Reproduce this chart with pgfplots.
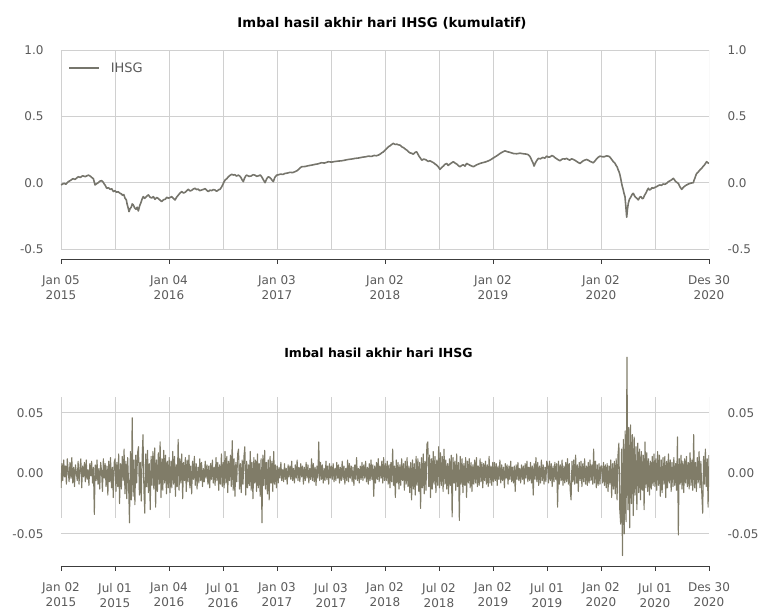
\documentclass[border=0pt]{standalone}
\usepackage{fontspec}
\setmainfont{DejaVu Sans}
\usepackage{pgfplots}
\usepackage{pgfplotstable}
\pgfplotsset{compat=1.18}
\definecolor{ser}{RGB}{128,124,104}
\definecolor{sertop}{RGB}{118,117,108}
\definecolor{gridc}{RGB}{208,208,208}
\definecolor{tickc}{RGB}{90,90,90}
\definecolor{axc}{RGB}{60,60,60}

\pgfplotstableread{
x y
2015.000 -0.017
2015.015 -0.010
2015.030 -0.005
2015.045 -0.012
2015.068 0.008
2015.090 0.018
2015.110 0.030
2015.130 0.025
2015.160 0.045
2015.180 0.040
2015.200 0.052
2015.225 0.046
2015.253 0.057
2015.270 0.050
2015.284 0.040
2015.300 0.030
2015.315 -0.017
2015.330 -0.008
2015.345 0.000
2015.360 0.012
2015.377 0.015
2015.390 0.005
2015.400 -0.010
2015.410 -0.020
2015.423 -0.042
2015.440 -0.038
2015.455 -0.050
2015.470 -0.046
2015.485 -0.067
2015.500 -0.060
2015.515 -0.072
2015.530 -0.068
2015.546 -0.080
2015.560 -0.085
2015.570 -0.095
2015.582 -0.090
2015.593 -0.117
2015.605 -0.130
2015.612 -0.160
2015.620 -0.185
2015.630 -0.218
2015.640 -0.195
2015.650 -0.185
2015.660 -0.160
2015.670 -0.168
2015.682 -0.190
2015.695 -0.200
2015.705 -0.185
2015.716 -0.213
2015.728 -0.175
2015.740 -0.150
2015.750 -0.125
2015.762 -0.105
2015.775 -0.118
2015.785 -0.110
2015.797 -0.100
2015.809 -0.092
2015.825 -0.110
2015.840 -0.115
2015.855 -0.105
2015.870 -0.125
2015.885 -0.112
2015.900 -0.118
2015.915 -0.130
2015.932 -0.142
2015.950 -0.128
2015.965 -0.125
2015.980 -0.110
2015.994 -0.117
2016.010 -0.112
2016.025 -0.105
2016.040 -0.118
2016.056 -0.130
2016.070 -0.110
2016.085 -0.095
2016.100 -0.080
2016.117 -0.067
2016.135 -0.078
2016.150 -0.072
2016.165 -0.060
2016.179 -0.050
2016.195 -0.062
2016.210 -0.058
2016.225 -0.048
2016.241 -0.042
2016.255 -0.052
2016.270 -0.048
2016.285 -0.060
2016.302 -0.055
2016.320 -0.050
2016.335 -0.045
2016.350 -0.058
2016.364 -0.067
2016.380 -0.056
2016.395 -0.060
2016.410 -0.052
2016.426 -0.055
2016.440 -0.065
2016.450 -0.060
2016.462 -0.052
2016.472 -0.050
2016.485 -0.035
2016.495 -0.020
2016.507 0.002
2016.519 0.020
2016.535 0.030
2016.550 0.045
2016.565 0.055
2016.580 0.063
2016.595 0.058
2016.610 0.060
2016.625 0.050
2016.642 0.057
2016.655 0.050
2016.665 0.040
2016.678 0.020
2016.688 0.008
2016.700 0.035
2016.710 0.050
2016.719 0.057
2016.740 0.048
2016.760 0.050
2016.778 0.060
2016.796 0.057
2016.812 0.048
2016.830 0.052
2016.845 0.058
2016.858 0.045
2016.875 0.020
2016.889 0.000
2016.905 0.030
2016.920 0.045
2016.932 0.040
2016.945 0.030
2016.955 0.018
2016.966 0.008
2016.980 0.040
2016.997 0.057
2017.015 0.060
2017.035 0.065
2017.055 0.062
2017.074 0.070
2017.095 0.072
2017.120 0.078
2017.145 0.076
2017.167 0.083
2017.185 0.090
2017.200 0.100
2017.215 0.112
2017.228 0.120
2017.260 0.122
2017.290 0.128
2017.320 0.132
2017.352 0.138
2017.380 0.142
2017.410 0.150
2017.440 0.148
2017.475 0.158
2017.505 0.155
2017.540 0.160
2017.570 0.163
2017.599 0.165
2017.630 0.170
2017.660 0.175
2017.690 0.178
2017.722 0.183
2017.755 0.186
2017.790 0.192
2017.820 0.195
2017.846 0.200
2017.875 0.198
2017.900 0.205
2017.920 0.203
2017.938 0.208
2017.955 0.215
2017.970 0.225
2017.985 0.232
2018.000 0.245
2018.016 0.258
2018.035 0.272
2018.050 0.280
2018.065 0.290
2018.077 0.296
2018.095 0.288
2018.110 0.290
2018.125 0.285
2018.139 0.283
2018.155 0.270
2018.170 0.265
2018.185 0.255
2018.201 0.246
2018.215 0.235
2018.230 0.225
2018.245 0.222
2018.262 0.215
2018.278 0.228
2018.293 0.233
2018.305 0.215
2018.315 0.200
2018.328 0.185
2018.340 0.170
2018.360 0.178
2018.380 0.172
2018.400 0.160
2018.417 0.165
2018.432 0.158
2018.450 0.150
2018.465 0.140
2018.478 0.133
2018.495 0.118
2018.509 0.100
2018.525 0.115
2018.540 0.125
2018.555 0.138
2018.571 0.145
2018.585 0.130
2018.600 0.140
2018.618 0.150
2018.633 0.158
2018.648 0.148
2018.665 0.140
2018.680 0.128
2018.694 0.120
2018.710 0.130
2018.725 0.135
2018.740 0.125
2018.756 0.145
2018.772 0.138
2018.790 0.130
2018.805 0.125
2018.818 0.120
2018.835 0.128
2018.850 0.135
2018.865 0.140
2018.880 0.145
2018.900 0.150
2018.925 0.155
2018.950 0.162
2018.972 0.170
2018.995 0.182
2019.020 0.195
2019.040 0.205
2019.065 0.220
2019.090 0.232
2019.111 0.240
2019.130 0.234
2019.150 0.230
2019.170 0.225
2019.188 0.220
2019.220 0.218
2019.250 0.222
2019.280 0.218
2019.312 0.215
2019.328 0.210
2019.340 0.200
2019.350 0.185
2019.358 0.170
2019.370 0.150
2019.380 0.125
2019.390 0.145
2019.400 0.160
2019.410 0.172
2019.420 0.183
2019.440 0.180
2019.460 0.190
2019.480 0.185
2019.497 0.200
2019.515 0.192
2019.530 0.195
2019.545 0.205
2019.558 0.200
2019.575 0.188
2019.590 0.180
2019.605 0.172
2019.620 0.165
2019.635 0.175
2019.650 0.180
2019.665 0.178
2019.682 0.183
2019.695 0.176
2019.710 0.170
2019.728 0.180
2019.744 0.175
2019.760 0.168
2019.775 0.160
2019.790 0.152
2019.806 0.145
2019.820 0.155
2019.835 0.165
2019.850 0.170
2019.867 0.175
2019.885 0.168
2019.900 0.160
2019.915 0.155
2019.929 0.150
2019.945 0.165
2019.960 0.180
2019.975 0.192
2019.991 0.200
2020.010 0.196
2020.030 0.195
2020.050 0.202
2020.068 0.200
2020.080 0.195
2020.090 0.185
2020.102 0.172
2020.114 0.158
2020.128 0.148
2020.140 0.130
2020.150 0.118
2020.160 0.095
2020.168 0.080
2020.175 0.060
2020.183 0.030
2020.191 -0.005
2020.198 -0.030
2020.205 -0.050
2020.213 -0.080
2020.222 -0.105
2020.230 -0.180
2020.238 -0.260
2020.245 -0.200
2020.253 -0.155
2020.263 -0.125
2020.275 -0.110
2020.287 -0.090
2020.299 -0.080
2020.310 -0.098
2020.320 -0.110
2020.333 -0.118
2020.345 -0.130
2020.358 -0.110
2020.370 -0.105
2020.381 -0.120
2020.392 -0.117
2020.403 -0.095
2020.415 -0.080
2020.426 -0.060
2020.438 -0.042
2020.450 -0.055
2020.460 -0.050
2020.472 -0.038
2020.484 -0.042
2020.500 -0.035
2020.515 -0.030
2020.530 -0.022
2020.546 -0.017
2020.560 -0.020
2020.575 -0.010
2020.592 -0.012
2020.608 -0.005
2020.625 0.008
2020.640 0.015
2020.655 0.022
2020.670 0.033
2020.680 0.022
2020.690 0.010
2020.703 0.002
2020.716 -0.005
2020.730 -0.030
2020.747 -0.050
2020.758 -0.040
2020.770 -0.030
2020.782 -0.022
2020.793 -0.017
2020.810 -0.010
2020.825 -0.005
2020.840 -0.002
2020.855 0.000
2020.862 0.020
2020.870 0.035
2020.878 0.055
2020.886 0.070
2020.898 0.078
2020.910 0.090
2020.920 0.100
2020.932 0.108
2020.945 0.122
2020.955 0.130
2020.967 0.145
2020.978 0.158
2020.990 0.150
2021.000 0.145
}\cum

\pgfplotstableread[row sep=\\]{r\\
-0.012\\ 0.008\\ -0.006\\ 0.011\\ -0.003\\ 0.006\\ -0.009\\ 0.012\\ 0.002\\ -0.007\\
0.009\\ -0.004\\ 0.013\\ -0.008\\ 0.005\\ -0.011\\ 0.007\\ 0.001\\ -0.006\\ 0.010\\
-0.009\\ 0.004\\ 0.012\\ -0.012\\ 0.006\\ -0.003\\ 0.009\\ -0.007\\ 0.011\\ -0.005\\
0.003\\ -0.010\\ 0.008\\ -0.002\\ 0.010\\ -0.008\\ 0.005\\ -0.034\\ 0.007\\ -0.006\\
0.011\\ -0.009\\ 0.004\\ -0.013\\ 0.009\\ 0.002\\ -0.015\\ 0.012\\ -0.004\\ 0.008\\
-0.011\\ 0.006\\ -0.018\\ 0.010\\ -0.007\\ 0.013\\ -0.012\\ 0.005\\ -0.020\\ 0.009\\
0.012\\ -0.015\\ 0.009\\ -0.011\\ 0.016\\ -0.025\\ 0.008\\ -0.013\\ 0.014\\ -0.006\\
0.020\\ -0.017\\ 0.010\\ -0.021\\ 0.013\\ -0.009\\ -0.041\\ 0.018\\ -0.022\\ 0.046\\
-0.019\\ 0.011\\ -0.026\\ 0.015\\ -0.008\\ 0.017\\ 0.022\\ -0.018\\ 0.009\\ -0.023\\
0.012\\ 0.032\\ -0.014\\ -0.033\\ 0.016\\ -0.011\\ 0.019\\ -0.016\\ 0.008\\ -0.030\\
0.014\\ -0.010\\ 0.018\\ -0.013\\ 0.021\\ -0.028\\ 0.011\\ -0.015\\ 0.017\\ -0.009\\
0.026\\ -0.020\\ 0.012\\ -0.014\\ 0.019\\ -0.008\\ 0.015\\ -0.017\\ 0.010\\ -0.012\\
0.013\\ -0.016\\ 0.010\\ -0.012\\ 0.018\\ -0.009\\ 0.014\\ -0.019\\ 0.007\\ -0.011\\
0.028\\ -0.014\\ 0.012\\ -0.008\\ 0.016\\ -0.021\\ 0.009\\ -0.006\\ 0.013\\ -0.015\\
0.011\\ -0.007\\ 0.015\\ -0.012\\ 0.006\\ -0.017\\ 0.010\\ -0.005\\ 0.014\\ -0.010\\
0.008\\ -0.013\\ 0.005\\ -0.008\\ 0.012\\ -0.006\\ 0.009\\ -0.011\\ 0.004\\ -0.007\\
0.010\\ -0.004\\ 0.007\\ -0.009\\ 0.006\\ -0.012\\ 0.008\\ -0.005\\ 0.011\\ -0.008\\
0.005\\ -0.010\\ 0.013\\ -0.006\\ 0.009\\ -0.014\\ 0.007\\ -0.009\\ 0.016\\ -0.011\\
0.009\\ -0.012\\ 0.018\\ -0.008\\ 0.014\\ -0.016\\ 0.010\\ -0.006\\ 0.015\\ -0.011\\
0.027\\ -0.014\\ 0.012\\ -0.019\\ 0.009\\ -0.007\\ 0.016\\ 0.020\\ -0.013\\ 0.008\\
-0.016\\ 0.011\\ -0.009\\ 0.014\\ 0.022\\ -0.018\\ 0.010\\ -0.012\\ 0.007\\ -0.010\\
0.018\\ -0.014\\ 0.009\\ -0.021\\ 0.013\\ -0.008\\ 0.011\\ -0.015\\ 0.016\\ -0.012\\
0.008\\ -0.019\\ 0.012\\ -0.041\\ 0.015\\ -0.010\\ 0.019\\ -0.013\\ 0.009\\ -0.017\\
0.011\\ -0.022\\ 0.014\\ -0.008\\ 0.010\\ -0.015\\ 0.018\\ -0.009\\ 0.007\\ -0.012\\
0.006\\ -0.008\\ 0.005\\ -0.004\\ 0.009\\ -0.006\\ 0.003\\ -0.007\\ 0.008\\ -0.005\\
0.004\\ -0.009\\ 0.007\\ -0.003\\ 0.006\\ -0.005\\ 0.010\\ -0.006\\ 0.004\\ -0.008\\
0.007\\ -0.004\\ 0.011\\ -0.006\\ 0.005\\ -0.007\\ 0.008\\ -0.003\\ 0.006\\ -0.009\\
0.005\\ -0.006\\ 0.009\\ -0.004\\ 0.007\\ -0.008\\ 0.004\\ -0.005\\ 0.012\\ -0.006\\
0.008\\ -0.007\\ 0.005\\ -0.010\\ 0.006\\ -0.004\\ 0.026\\ -0.006\\ 0.009\\ -0.005\\
0.007\\ -0.008\\ 0.004\\ -0.006\\ 0.010\\ -0.005\\ 0.006\\ -0.009\\ 0.008\\ -0.004\\
0.006\\ -0.005\\ 0.008\\ -0.007\\ 0.004\\ -0.006\\ 0.009\\ -0.004\\ 0.007\\ -0.008\\
0.005\\ -0.006\\ 0.010\\ -0.005\\ 0.006\\ -0.009\\ 0.004\\ -0.006\\ 0.011\\ -0.007\\
0.008\\ -0.004\\ 0.006\\ -0.007\\ 0.005\\ -0.010\\ 0.007\\ -0.005\\ 0.013\\ -0.006\\
0.004\\ -0.008\\ 0.006\\ -0.005\\ 0.009\\ -0.006\\ 0.007\\ -0.004\\ 0.010\\ -0.007\\
0.005\\ -0.009\\ 0.008\\ -0.006\\ 0.011\\ -0.005\\ 0.007\\ -0.019\\ 0.006\\ -0.008\\
0.009\\ -0.005\\ 0.012\\ -0.007\\ 0.006\\ -0.004\\ 0.010\\ -0.008\\ 0.013\\ -0.006\\
0.008\\ -0.006\\ 0.010\\ -0.009\\ 0.007\\ -0.012\\ 0.009\\ -0.007\\ 0.020\\ -0.010\\
0.006\\ -0.020\\ 0.011\\ -0.008\\ 0.009\\ -0.013\\ 0.007\\ -0.010\\ 0.012\\ -0.006\\
0.008\\ -0.014\\ 0.010\\ -0.009\\ 0.013\\ -0.011\\ 0.006\\ -0.016\\ 0.009\\ -0.022\\
0.011\\ -0.013\\ 0.008\\ -0.018\\ 0.014\\ -0.010\\ 0.012\\ -0.015\\ 0.009\\ -0.029\\
0.013\\ -0.012\\ 0.016\\ -0.017\\ 0.010\\ -0.014\\ 0.024\\ 0.026\\ -0.011\\ 0.015\\
-0.020\\ 0.012\\ -0.013\\ 0.018\\ -0.009\\ 0.014\\ -0.016\\ 0.011\\ -0.010\\ 0.022\\
-0.012\\ 0.017\\ -0.010\\ 0.014\\ -0.015\\ 0.020\\ -0.009\\ 0.011\\ -0.013\\ 0.008\\
-0.017\\ 0.012\\ -0.010\\ 0.015\\ -0.036\\ 0.013\\ -0.008\\ 0.010\\ -0.014\\ 0.016\\
-0.011\\ 0.009\\ -0.039\\ 0.014\\ -0.009\\ 0.012\\ -0.016\\ 0.008\\ -0.010\\ 0.013\\
-0.020\\ 0.010\\ -0.008\\ 0.012\\ -0.012\\ 0.009\\ -0.015\\ 0.007\\ -0.009\\ 0.011\\
-0.008\\ 0.013\\ -0.011\\ 0.006\\ -0.010\\ 0.012\\ -0.007\\ 0.009\\ -0.012\\ 0.008\\
-0.006\\ 0.010\\ -0.009\\ 0.007\\ -0.011\\ 0.014\\ -0.008\\ 0.006\\ -0.010\\ 0.009\\
-0.007\\ 0.009\\ -0.006\\ 0.008\\ -0.010\\ 0.006\\ -0.005\\ 0.011\\ -0.008\\ 0.007\\
-0.006\\ 0.005\\ -0.012\\ 0.008\\ -0.004\\ 0.007\\ -0.009\\ 0.006\\ -0.005\\ 0.010\\
-0.007\\ 0.005\\ -0.008\\ 0.006\\ -0.015\\ 0.007\\ -0.005\\ 0.009\\ -0.006\\ 0.004\\
-0.008\\ 0.007\\ -0.005\\ 0.006\\ -0.009\\ 0.008\\ -0.004\\ 0.010\\ -0.007\\ 0.005\\
-0.006\\ 0.009\\ -0.008\\ 0.006\\ -0.018\\ 0.008\\ -0.005\\ 0.013\\ -0.007\\ 0.009\\
-0.010\\ 0.006\\ -0.008\\ 0.011\\ -0.006\\ 0.007\\ -0.009\\ 0.005\\ -0.007\\ 0.010\\
0.007\\ -0.008\\ 0.010\\ -0.006\\ 0.008\\ -0.011\\ 0.006\\ -0.007\\ 0.009\\ -0.005\\
0.008\\ -0.028\\ 0.010\\ -0.009\\ 0.007\\ -0.006\\ 0.011\\ -0.010\\ 0.006\\ -0.008\\
0.009\\ -0.007\\ 0.012\\ -0.009\\ 0.008\\ -0.014\\ -0.022\\ 0.010\\ -0.007\\ 0.011\\
-0.009\\ 0.015\\ -0.008\\ 0.007\\ -0.015\\ 0.009\\ -0.006\\ 0.010\\ -0.011\\ 0.008\\
-0.007\\ 0.012\\ -0.009\\ 0.006\\ -0.010\\ 0.009\\ -0.008\\ 0.011\\ -0.006\\ 0.007\\
-0.009\\ 0.020\\ -0.008\\ 0.010\\ -0.012\\ 0.007\\ -0.010\\ 0.008\\ -0.009\\ 0.006\\
0.006\\ -0.008\\ 0.009\\ -0.010\\ 0.007\\ -0.012\\ 0.008\\ -0.015\\ 0.006\\ -0.009\\
0.011\\ -0.020\\ 0.008\\ -0.013\\ 0.010\\ -0.017\\ 0.012\\ -0.022\\ 0.015\\ 0.025\\
-0.030\\ -0.042\\ 0.020\\ -0.068\\ 0.028\\ -0.050\\ 0.035\\ -0.040\\ 0.096\\ -0.030\\
0.038\\ -0.045\\ 0.040\\ -0.025\\ 0.032\\ -0.035\\ 0.030\\ -0.018\\ 0.022\\ -0.030\\
0.025\\ -0.016\\ 0.020\\ -0.022\\ 0.018\\ -0.014\\ 0.015\\ -0.030\\ 0.026\\ -0.012\\
0.017\\ -0.015\\ 0.012\\ -0.018\\ 0.010\\ -0.013\\ 0.014\\ -0.010\\ 0.016\\ -0.011\\
0.012\\ -0.014\\ 0.018\\ -0.010\\ 0.015\\ -0.019\\ 0.011\\ -0.016\\ 0.013\\ -0.009\\
0.014\\ -0.020\\ 0.010\\ -0.012\\ 0.016\\ -0.008\\ 0.011\\ -0.015\\ 0.009\\ -0.011\\
0.013\\ -0.010\\ 0.008\\ -0.014\\ 0.030\\ -0.051\\ 0.012\\ -0.009\\ 0.015\\ -0.013\\
0.010\\ -0.016\\ 0.012\\ -0.008\\ 0.014\\ -0.011\\ 0.009\\ -0.013\\ 0.017\\ -0.010\\
0.011\\ -0.014\\ 0.032\\ -0.012\\ 0.009\\ -0.015\\ 0.013\\ -0.008\\ 0.018\\ -0.012\\
0.010\\ -0.016\\ -0.033\\ 0.014\\ -0.009\\ 0.020\\ -0.011\\ 0.012\\ -0.028\\ 0.015\\
}\ret

\pgfplotsset{
  base/.style={
    scale only axis, width=648pt,
    xmin=2015, xmax=2021,
    /pgf/number format/assume math mode=true,
    tick label style={font=\fontsize{12}{15}\selectfont, text=tickc},
    xticklabel style={align=center, yshift=-8.5pt},
    y axis line style={draw=none},
    ytick style={draw=none},
    x axis line style={-, color=axc, line width=0.8pt},
    xtick style={color=axc, line width=0.8pt},
    tick align=outside, major tick length=5pt,
    grid style={gridc, line width=0.7pt},
  },
  rightlab/.style={
    scale only axis, width=648pt,
    xmin=2015, xmax=2021,
    /pgf/number format/assume math mode=true,
    axis x line=none, axis y line*=right,
    y axis line style={draw=none},
    ytick style={draw=none},
    tick label style={font=\fontsize{12}{15}\selectfont, text=tickc},
    yticklabel style={xshift=15pt},
  },
}

\begin{document}
\begin{tikzpicture}
\useasboundingbox (0,0) rectangle (760pt,609pt);

% ---------- top panel ----------
\begin{axis}[base,
  at={(61pt,350pt)}, anchor=south west, height=209pt,
  ymin=-0.575, ymax=1.0,
  axis x line*=bottom, axis y line*=left,
  ytick={-0.5,0,0.5,1}, ymajorgrids,
  yticklabel style={/pgf/number format/.cd, fixed, fixed zerofill, precision=1, /tikz/.cd, xshift=-9pt},
  xtick={2015,2016,2017,2018,2019,2020,2021},
  xticklabels={{Jan 05\\2015},{Jan 04\\2016},{Jan 03\\2017},{Jan 02\\2018},{Jan 02\\2019},{Jan 02\\2020},{Des 30\\2020}},
  legend style={at={(axis description cs:0.0062,0.914)}, anchor=west, draw=none, fill=none,
    font=\fontsize{13}{15}\selectfont, text=tickc, legend cell align=left},
  legend image code/.code={\draw[#1] (0pt,0pt) -- (30pt,0pt); \path (39pt,0pt);},
]
\pgfplotsinvokeforeach{2015,2015.5,2016,2016.5,2017,2017.5,2018,2018.5,2019,2019.5,2020,2020.5,2021}{
  \draw[gridc, line width=0.8pt] (axis cs:#1,-0.5) -- (axis cs:#1,1.0);
}
\addplot[sertop, line width=1.6pt, line join=round] table[x=x, y=y] {\cum};
\addlegendentry{IHSG}
\end{axis}
\begin{axis}[rightlab,
  at={(61pt,350pt)}, anchor=south west, height=209pt,
  ymin=-0.575, ymax=1.0, ytick={-0.5,0,0.5,1},
  yticklabel style={/pgf/number format/.cd, fixed, fixed zerofill, precision=1},
]
\end{axis}
\node[font=\fontsize{13.3}{15}\selectfont\bfseries] at (382pt,586pt) {Imbal hasil akhir hari IHSG (kumulatif)};

% ---------- bottom panel ----------
\begin{axis}[base,
  at={(61pt,43pt)}, anchor=south west, height=213.7pt,
  ymin=-0.0766, ymax=0.1,
  axis x line*=bottom, axis y line*=left,
  ytick={-0.05,0,0.05}, ymajorgrids,
  yticklabel style={/pgf/number format/.cd, fixed, fixed zerofill, precision=2, /tikz/.cd, xshift=-9pt},
  xtick={2015,2015.5,2016,2016.5,2017,2017.5,2018,2018.5,2019,2019.5,2020,2020.5,2021},
  xticklabels={{Jan 02\\2015},{Jul 01\\2015},{Jan 04\\2016},{Jul 01\\2016},{Jan 03\\2017},{Jul 03\\2017},{Jan 02\\2018},{Jul 02\\2018},{Jan 02\\2019},{Jul 01\\2019},{Jan 02\\2020},{Jul 01\\2020},{Des 30\\2020}},
]
\pgfplotsinvokeforeach{2015,2015.5,2016,2016.5,2017,2017.5,2018,2018.5,2019,2019.5,2020,2020.5,2021}{
  \draw[gridc, line width=0.8pt] (axis cs:#1,-0.0369) -- (axis cs:#1,0.0631);
}
\addplot[ser, line width=1.1pt, line join=round] table[x expr=2015+\coordindex*6/719, y=r] {\ret};
\end{axis}
\begin{axis}[rightlab,
  at={(61pt,43pt)}, anchor=south west, height=213.7pt,
  ymin=-0.0766, ymax=0.1, ytick={-0.05,0,0.05},
  yticklabel style={/pgf/number format/.cd, fixed, fixed zerofill, precision=2},
]
\end{axis}
\node[font=\fontsize{12.5}{15}\selectfont\bfseries] at (378.5pt,256pt) {Imbal hasil akhir hari IHSG};
\end{tikzpicture}
\end{document}
